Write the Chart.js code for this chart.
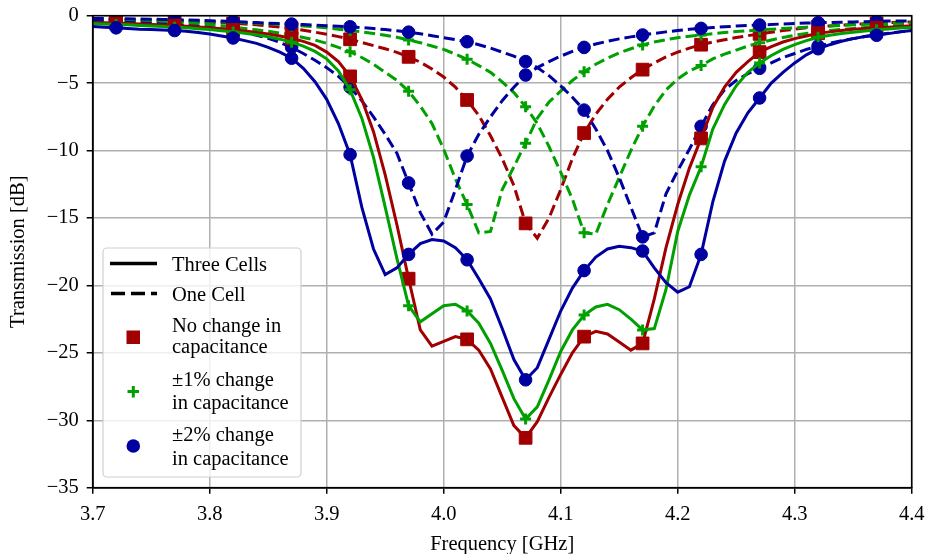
<!DOCTYPE html>
<html>
<head>
<meta charset="utf-8">
<title>Transmission</title>
<script src="https://cdn.jsdelivr.net/npm/chart.js@4.4.1/dist/chart.umd.min.js"></script>
<style>
  html, body { margin: 0; padding: 0; background: #fff; }
</style>
</head>
<body>
<canvas id="transmissionChart" width="925" height="554"></canvas>
<script>
// Frequency axis [GHz], 10 MHz steps
const freq = [3.70, 3.71, 3.72, 3.73, 3.74, 3.75, 3.76, 3.77, 3.78, 3.79,
  3.80, 3.81, 3.82, 3.83, 3.84, 3.85, 3.86, 3.87, 3.88, 3.89,
  3.90, 3.91, 3.92, 3.93, 3.94, 3.95, 3.96, 3.97, 3.98, 3.99,
  4.00, 4.01, 4.02, 4.03, 4.04, 4.05, 4.06, 4.07, 4.08, 4.09,
  4.10, 4.11, 4.12, 4.13, 4.14, 4.15, 4.16, 4.17, 4.18, 4.19,
  4.20, 4.21, 4.22, 4.23, 4.24, 4.25, 4.26, 4.27, 4.28, 4.29,
  4.30, 4.31, 4.32, 4.33, 4.34, 4.35, 4.36, 4.37, 4.38, 4.39, 4.40];

// Three cells [dB]
const threeNoChange = [-0.50, -0.52, -0.55, -0.58, -0.61, -0.65, -0.69, -0.73, -0.78, -0.84,
  -0.90, -0.97, -1.05, -1.14, -1.24, -1.36, -1.50, -1.68, -1.90, -2.20,
  -2.70, -3.40, -4.50, -6.20, -8.60, -11.8, -15.5, -19.5, -23.3, -24.5,
  -24.15, -23.8, -24.0, -24.8, -26.2, -28.3, -30.4, -31.3, -30.1, -28.3,
  -26.6, -25.0, -23.8, -23.4, -23.6, -24.2, -24.8, -24.3, -21.0, -17.2,
  -14.0, -11.3, -9.1, -6.8, -5.3, -4.2, -3.4, -2.7, -2.3, -1.95,
  -1.7, -1.5, -1.3, -1.2, -1.1, -1.0, -0.95, -0.9, -0.85, -0.8, -0.75];
const threePm1 = [-0.60, -0.62, -0.65, -0.68, -0.72, -0.76, -0.80, -0.85, -0.90, -0.96,
  -1.03, -1.11, -1.20, -1.30, -1.42, -1.56, -1.74, -1.96, -2.25, -2.65,
  -3.20, -4.10, -5.50, -7.60, -10.5, -14.2, -18.0, -21.5, -22.7, -22.1,
  -21.5, -21.4, -21.9, -22.8, -24.3, -26.3, -28.4, -29.9, -29.0, -27.0,
  -24.9, -23.3, -22.2, -21.6, -21.4, -21.8, -22.5, -23.3, -23.2, -20.3,
  -16.0, -13.3, -11.2, -8.4, -6.6, -5.2, -4.2, -3.5, -2.95, -2.5,
  -2.15, -1.85, -1.6, -1.45, -1.32, -1.22, -1.13, -1.05, -0.98, -0.92, -0.87];
const threePm2 = [-0.80, -0.85, -0.90, -0.95, -1.00, -1.03, -1.06, -1.10, -1.15, -1.25,
  -1.35, -1.50, -1.65, -1.85, -2.05, -2.35, -2.70, -3.15, -3.90, -4.90,
  -6.20, -8.00, -10.3, -14.2, -17.3, -19.2, -18.7, -17.7, -16.9, -16.6,
  -16.7, -17.2, -18.1, -19.5, -21.0, -23.2, -25.5, -27.0, -26.1, -24.0,
  -21.9, -20.2, -18.9, -17.9, -17.3, -17.1, -17.2, -17.45, -18.7, -19.8,
  -20.5, -20.1, -17.7, -13.8, -10.8, -8.7, -7.2, -6.1, -5.0, -4.2,
  -3.5, -2.9, -2.45, -2.15, -1.9, -1.7, -1.55, -1.45, -1.33, -1.2, -1.1];

// One cell [dB]
const oneNoChange = [-0.25, -0.27, -0.29, -0.30, -0.32, -0.34, -0.36, -0.38, -0.41, -0.44,
  -0.48, -0.52, -0.57, -0.62, -0.68, -0.76, -0.85, -0.95, -1.08, -1.22,
  -1.38, -1.55, -1.75, -1.98, -2.22, -2.45, -2.72, -3.05, -3.45, -3.95,
  -4.55, -5.30, -6.25, -7.40, -8.90, -10.6, -12.6, -15.4, -16.5, -15.0,
  -12.9, -10.6, -8.7, -7.3, -6.2, -5.3, -4.6, -4.0, -3.5, -3.05,
  -2.70, -2.40, -2.15, -1.95, -1.78, -1.62, -1.48, -1.35, -1.22, -1.10,
  -1.00, -0.90, -0.82, -0.76, -0.70, -0.65, -0.60, -0.56, -0.52, -0.49, -0.46];
const oneMinus1 = [-0.30, -0.32, -0.35, -0.37, -0.40, -0.43, -0.46, -0.50, -0.55, -0.60,
  -0.66, -0.75, -0.85, -0.95, -1.05, -1.15, -1.30, -1.45, -1.62, -1.80,
  -2.05, -2.35, -2.67, -3.10, -3.60, -4.20, -4.80, -5.60, -6.70, -8.00,
  -9.90, -12.1, -14.0, -16.1, -16.0, -12.9, -11.2, -9.45, -7.60, -6.40,
  -5.60, -4.80, -4.15, -3.60, -3.15, -2.75, -2.45, -2.17, -1.95, -1.78,
  -1.63, -1.52, -1.43, -1.33, -1.25, -1.18, -1.12, -1.06, -1.00, -0.95,
  -0.90, -0.85, -0.80, -0.76, -0.72, -0.68, -0.64, -0.60, -0.57, -0.54, -0.51];
const onePlus1 = [-0.25, -0.26, -0.28, -0.29, -0.30, -0.32, -0.33, -0.35, -0.37, -0.40,
  -0.42, -0.45, -0.48, -0.52, -0.56, -0.60, -0.65, -0.70, -0.76, -0.83,
  -0.90, -1.00, -1.10, -1.20, -1.32, -1.45, -1.60, -1.80, -2.00, -2.25,
  -2.50, -2.85, -3.23, -3.70, -4.20, -4.90, -5.70, -6.75, -8.00, -9.70,
  -11.6, -13.6, -16.1, -16.2, -14.0, -12.0, -10.0, -8.20, -6.70, -5.50,
  -4.70, -4.10, -3.70, -3.20, -2.85, -2.55, -2.25, -2.00, -1.80, -1.62,
  -1.45, -1.32, -1.20, -1.10, -1.02, -0.95, -0.88, -0.82, -0.77, -0.72, -0.68];
const oneMinus2 = [-0.40, -0.43, -0.46, -0.50, -0.54, -0.58, -0.63, -0.68, -0.74, -0.80,
  -0.88, -0.98, -1.10, -1.25, -1.45, -1.68, -1.98, -2.35, -2.80, -3.30,
  -3.85, -4.50, -5.30, -6.30, -7.50, -8.80, -10.2, -12.4, -14.6, -16.2,
  -15.3, -12.9, -10.4, -8.80, -7.50, -6.30, -5.30, -4.40, -3.85, -3.40,
  -3.00, -2.65, -2.35, -2.10, -1.90, -1.72, -1.57, -1.43, -1.31, -1.20,
  -1.10, -1.01, -0.94, -0.88, -0.82, -0.77, -0.73, -0.69, -0.65, -0.61,
  -0.58, -0.55, -0.52, -0.50, -0.48, -0.46, -0.44, -0.42, -0.40, -0.39, -0.38];
const onePlus2 = [-0.20, -0.21, -0.22, -0.23, -0.25, -0.26, -0.28, -0.30, -0.32, -0.34,
  -0.37, -0.40, -0.43, -0.47, -0.51, -0.55, -0.58, -0.62, -0.66, -0.70,
  -0.74, -0.78, -0.82, -0.88, -0.95, -1.03, -1.12, -1.22, -1.34, -1.48,
  -1.63, -1.78, -1.93, -2.15, -2.40, -2.70, -3.00, -3.40, -3.85, -4.45,
  -5.20, -6.05, -7.00, -8.40, -10.0, -12.0, -14.2, -16.4, -16.1, -13.2,
  -11.5, -9.90, -8.20, -6.60, -5.50, -4.80, -4.30, -3.90, -3.50, -3.10,
  -2.80, -2.50, -2.25, -2.05, -1.85, -1.70, -1.55, -1.40, -1.30, -1.20, -1.10];

const yTicks = [0, -5, -10, -15, -20, -25, -30, -35];

const RED = '#a00000';
const GREEN = '#00a000';
const BLUE = '#0000a0';
const SERIF = '"Liberation Serif", "Times New Roman", serif';
const FONT_SIZE = 20.5;

// a marker on every 5th sample, starting at 3.72 GHz
const every5 = r => ctx => (ctx.dataIndex % 5 === 2 ? r : 0);

function series(data, color, style, radius, dashed) {
  return {
    data: data,
    borderColor: color,
    backgroundColor: color,
    borderWidth: 3,
    borderDash: dashed ? [11, 5] : [],
    tension: 0,
    pointStyle: style,
    pointRadius: every5(radius),
    pointBorderWidth: style === 'cross' ? 3 : 1,
    pointBorderColor: color,
    pointBackgroundColor: color
  };
}

// black box round the plot area, like matplotlib spines
const framePlugin = {
  id: 'frame',
  afterDatasetsDraw(chart) {
    const { ctx, chartArea: a } = chart;
    ctx.save();
    ctx.strokeStyle = '#000';
    ctx.lineWidth = 1.6;
    ctx.strokeRect(a.left, a.top, a.right - a.left, a.bottom - a.top);
    ctx.restore();
  }
};

// legend with two-line labels
const legendPlugin = {
  id: 'twoLineLegend',
  afterDatasetsDraw(chart) {
    const ctx = chart.ctx;
    ctx.save();
    // box
    const x0 = 103, y0 = 248, x1 = 301, y1 = 477, r = 4;
    ctx.beginPath();
    ctx.moveTo(x0 + r, y0);
    ctx.arcTo(x1, y0, x1, y1, r);
    ctx.arcTo(x1, y1, x0, y1, r);
    ctx.arcTo(x0, y1, x0, y0, r);
    ctx.arcTo(x0, y0, x1, y0, r);
    ctx.closePath();
    ctx.fillStyle = 'rgba(255,255,255,0.8)';
    ctx.fill();
    ctx.strokeStyle = '#d0d0d0';
    ctx.lineWidth = 1.2;
    ctx.stroke();

    // line samples
    ctx.strokeStyle = '#000';
    ctx.lineWidth = 3.5;
    ctx.beginPath();
    ctx.moveTo(110, 263.5);
    ctx.lineTo(157, 263.5);
    ctx.stroke();
    ctx.setLineDash([14, 6]);
    ctx.beginPath();
    ctx.moveTo(111, 293.5);
    ctx.lineTo(157, 293.5);
    ctx.stroke();
    ctx.setLineDash([]);

    // marker samples
    ctx.fillStyle = RED;
    ctx.fillRect(126.5, 330.5, 13.5, 13.5);
    ctx.strokeStyle = GREEN;
    ctx.lineWidth = 3;
    ctx.beginPath();
    ctx.moveTo(127.5, 391.5); ctx.lineTo(139, 391.5);
    ctx.moveTo(133.3, 386); ctx.lineTo(133.3, 397.5);
    ctx.stroke();
    ctx.fillStyle = BLUE;
    ctx.beginPath();
    ctx.arc(133.3, 446, 6.8, 0, Math.PI * 2);
    ctx.fill();

    // texts
    ctx.fillStyle = '#000';
    ctx.font = FONT_SIZE + 'px ' + SERIF;
    ctx.textAlign = 'left';
    ctx.textBaseline = 'alphabetic';
    const lines = [
      ['Three Cells', 270.7],
      ['One Cell', 301],
      ['No change in', 331.7],
      ['capacitance', 353.3],
      ['\u00b11% change', 385.7],
      ['in capacitance', 409.3],
      ['\u00b12% change', 440.7],
      ['in capacitance', 465]
    ];
    lines.forEach(([t, y]) => ctx.fillText(t, 172, y));
    ctx.restore();
  }
};

const ctx = document.getElementById('transmissionChart').getContext('2d');
const transmissionChart = new Chart(ctx, {
  type: 'line',
  data: {
    labels: freq,
    datasets: [
      series(threePm2, BLUE, 'circle', 6.3, false),
      series(threePm1, GREEN, 'cross', 5.5, false),
      series(threeNoChange, RED, 'rect', 9, false),
      series(onePlus2, BLUE, 'circle', 6.3, true),
      series(oneMinus2, BLUE, 'circle', 6.3, true),
      series(onePlus1, GREEN, 'cross', 5.5, true),
      series(oneMinus1, GREEN, 'cross', 5.5, true),
      series(oneNoChange, RED, 'rect', 9, true)
    ]
  },
  options: {
    responsive: false,
    animation: false,
    events: [],
    devicePixelRatio: 1,
    layout: {
      padding: { top: 15.7, right: 13.3, left: 0, bottom: 0 }
    },
    plugins: {
      legend: { display: false },
      tooltip: { enabled: false }
    },
    scales: {
      x: {
        type: 'linear',
        min: 3.7,
        max: 4.4,
        afterFit: s => {
          s.height = 66.3;
          s.paddingLeft = 0;
          s.paddingRight = 0;
        },
        ticks: {
          stepSize: 0.1,
          color: '#000',
          padding: 9,
          font: { family: SERIF, size: FONT_SIZE },
          callback: v => Number(v).toFixed(1)
        },
        grid: {
          color: '#b0b0b0',
          lineWidth: 1.5,
          tickColor: '#000',
          tickLength: 6,
          tickWidth: 1.5
        },
        border: { color: '#000', width: 1.6 },
        title: {
          display: true,
          text: 'Frequency [GHz]',
          color: '#000',
          font: { family: SERIF, size: FONT_SIZE, lineHeight: 1 },
          padding: { top: 0, bottom: -1 }
        }
      },
      y: {
        min: -35,
        max: 0,
        afterFit: s => {
          s.width = 92.7;
          s.paddingTop = 0;
          s.paddingBottom = 0;
        },
        afterBuildTicks: s => { s.ticks = yTicks.map(v => ({ value: v })); },
        ticks: {
          color: '#000',
          padding: 8,
          font: { family: SERIF, size: FONT_SIZE },
          callback: v => (v === 0 ? '0' : '\u2212' + Math.abs(v))
        },
        grid: {
          color: '#b0b0b0',
          lineWidth: 1.5,
          tickColor: '#000',
          tickLength: 6,
          tickWidth: 1.5
        },
        border: { color: '#000', width: 1.6 },
        title: {
          display: true,
          text: 'Transmission [dB]',
          color: '#000',
          font: { family: SERIF, size: FONT_SIZE, lineHeight: 1 },
          padding: { top: 8, bottom: 0 }
        }
      }
    }
  },
  plugins: [framePlugin, legendPlugin]
});
</script>
</body>
</html>
